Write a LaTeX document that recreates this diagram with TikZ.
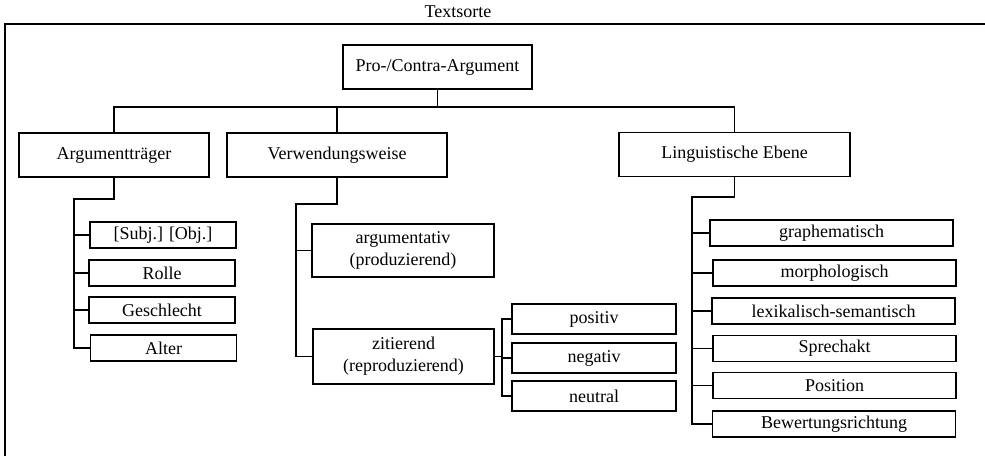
\documentclass[tikz,border=0pt]{standalone}
\usepackage{fontspec}
\setmainfont{Liberation Serif}
\usepackage{tikz}
\usetikzlibrary{positioning,calc}
\tikzset{
  catbox/.style={shape=rectangle,draw,line width=1.2pt,inner sep=0pt,
    minimum height=44pt},
  subbox/.style={shape=rectangle,draw,line width=1.2pt,inner sep=0pt,
    minimum height=26pt,align=center},
  link/.style={line width=1.2pt}
}
\begin{document}
\begin{tikzpicture}[x=1pt,y=-1pt,font=\fontsize{18}{22}\selectfont]
    \useasboundingbox (0,0) rectangle (985,456);
    % frame
    \coordinate (frameBL) at (5,456);
    \coordinate (frameTR) at (985,24);
    \draw [link] (frameBL) |- (frameTR);
    \node (sorte) at (458,12) {Textsorte};
    % top level
    \node (pro) [catbox,minimum width=189pt] at (437.5,67) {Pro-/Contra-Argument};
    \node (arg) [catbox,minimum width=190pt] at (114,155) {Argumenttr\"ager};
    \node (verw) [catbox,minimum width=220pt] at (337,155) {Verwendungsweise};
    \node (lingu) [catbox,minimum width=231pt] at (734.5,154.5) {Linguistische Ebene};
    \coordinate (bus) at (0,107);
    \draw [link] (arg.north) -- (arg.north |- bus) -- (lingu.north |- bus) -- (lingu.north);
    \draw [link] (pro.south) -- (pro.south |- bus);
    \draw [link] (verw.north) -- (verw.north |- bus);
    % Argumenttraeger
    \node (subj) [subbox,minimum width=146pt] at (163,235) {[Subj.] [Obj.]};
    \node (rolle) [subbox,minimum width=146pt] at (162,273) {Rolle};
    \node (geschl) [subbox,minimum width=146pt] at (162,310) {Geschlecht};
    \node (alter) [subbox,minimum width=146pt] at (163.5,348) {Alter};
    \coordinate (argknee) at (74,199);
    \draw [link] (arg.south) |- (argknee) |- (alter.west);
    \foreach \n in {subj,rolle,geschl}
      \draw [link] (argknee |- \n.west) -- (\n.west);
    % Verwendungsweise
    \node (argum) [subbox,minimum width=182pt,minimum height=53pt] at (403,250.5)
      {argumentativ\\(produzierend)};
    \node (zit) [subbox,minimum width=181pt,minimum height=55pt] at (403.5,356.5)
      {zitierend\\(reproduzierend)};
    \coordinate (verwknee) at (296,204);
    \draw [link] (verw.south) |- (verwknee) |- (zit.west);
    \draw [link] (verwknee |- argum.west) -- (argum.west);
    \node (pos) [subbox,minimum width=164pt,minimum height=30pt] at (594,319) {positiv};
    \node (neg) [subbox,minimum width=164pt,minimum height=30pt] at (594,358) {negativ};
    \node (neut) [subbox,minimum width=164pt,minimum height=30pt] at (594,396) {neutral};
    \coordinate (zitknee) at (502,0);
    \draw [link] (zit.east) -- (zitknee |- zit.east);
    \draw [link] (pos.west) -- (zitknee |- pos.west) -- (zitknee |- neut.west) -- (neut.west);
    \draw [link] (zitknee |- neg.west) -- (neg.west);
    % Linguistische Ebene
    \node (graph) [subbox,minimum width=243pt] at (831.5,233) {graphematisch};
    \node (morph) [subbox,minimum width=243pt] at (834.5,273) {morphologisch};
    \node (lex) [subbox,minimum width=243pt] at (833.5,311) {lexikalisch-semantisch};
    \node (sprech) [subbox,minimum width=243pt] at (834.5,348.5) {Sprechakt};
    \node (posit) [subbox,minimum width=243pt] at (834.5,385.5) {Position};
    \node (bewert) [subbox,minimum width=243pt] at (834,424) {Bewertungsrichtung};
    \coordinate (lingknee) at (692,197);
    \draw [link] (lingu.south) |- (lingknee) |- (bewert.west);
    \foreach \n in {graph,morph,lex,sprech,posit}
      \draw [link] (lingknee |- \n.west) -- (\n.west);
\end{tikzpicture}
\end{document}
